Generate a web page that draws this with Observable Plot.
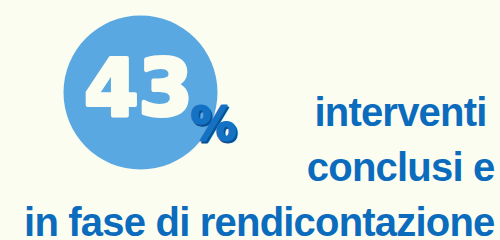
<!DOCTYPE html>
<html>
<head>
<meta charset="utf-8">
<script src="https://cdn.jsdelivr.net/npm/d3@7"></script>
<script src="https://cdn.jsdelivr.net/npm/@observablehq/plot@0.6"></script>
<style>
  html, body { margin: 0; padding: 0; background: #fbfdf1; }
  #chart { width: 500px; height: 240px; overflow: hidden; }
</style>
</head>
<body>
<div id="chart"></div>
<script>
// Data
const value = [43];
const valueLabels = ["43"];
const unitLabels = ["%"];
const captionLines = ["interventi", "conclusi e", "in fase di rendicontazione"];

// Layout table built for the library (positions in a 500x240 coordinate frame)
const circle = value.map(v => ({x: 140, y: 92, v}));
const bigNum = valueLabels.map(t => ({x: 138, y: 88, t}));
const unit = unitLabels.map(t => ({x: 213, y: 125, t}));
const captionPos = [
  {x: 486, y: 125},
  {x: 494, y: 180},
  {x: 494, y: 235}
];
const caption = captionLines.map((t, i) => ({t, ...captionPos[i]}));

const chart = Plot.plot({
  width: 500,
  height: 240,
  margin: 0,
  style: {background: "#fbfdf1", overflow: "visible"},
  x: {domain: [0, 500], axis: null},
  y: {domain: [0, 240], reverse: true, axis: null},
  marks: [
    Plot.dot(circle, {x: "x", y: "y", r: 77, fill: "#5aa8e2", stroke: "none"}),
    Plot.text(bigNum, {
      x: "x", y: "y", text: "t", fill: "#fbfdf1", stroke: "#fbfdf1", strokeWidth: 4,
      strokeLinejoin: "round",
      fontSize: 78, fontWeight: 700, fontFamily: "'DejaVu Sans', sans-serif",
      textAnchor: "middle", lineAnchor: "middle", dy: 2
    }),
    Plot.text(unit, {
      x: "x", y: "y", text: "t", fill: "#0a4f94", stroke: "#0a4f94", strokeWidth: 2,
      strokeLinejoin: "round", dx: 1.5, dy: 2,
      fontSize: 46, fontWeight: 700, fontFamily: "'DejaVu Sans', sans-serif",
      textAnchor: "middle", lineAnchor: "middle"
    }),
    Plot.text(unit, {
      x: "x", y: "y", text: "t", fill: "#1472c4", stroke: "#1472c4", strokeWidth: 2,
      strokeLinejoin: "round",
      fontSize: 46, fontWeight: 700, fontFamily: "'DejaVu Sans', sans-serif",
      textAnchor: "middle", lineAnchor: "middle"
    }),
    Plot.text(caption, {
      x: "x", y: "y", text: "t", fill: "#0b6bbd",
      fontSize: 40, fontWeight: 700, fontFamily: "'Liberation Sans', Arial, sans-serif",
      textAnchor: "end", lineAnchor: "bottom"
    })
  ]
});
chart.querySelectorAll("text").forEach(t => {
  if (captionLines.includes(t.textContent)) t.setAttribute("letter-spacing", "-0.8");
});
document.getElementById("chart").appendChild(chart);
</script>
</body>
</html>
